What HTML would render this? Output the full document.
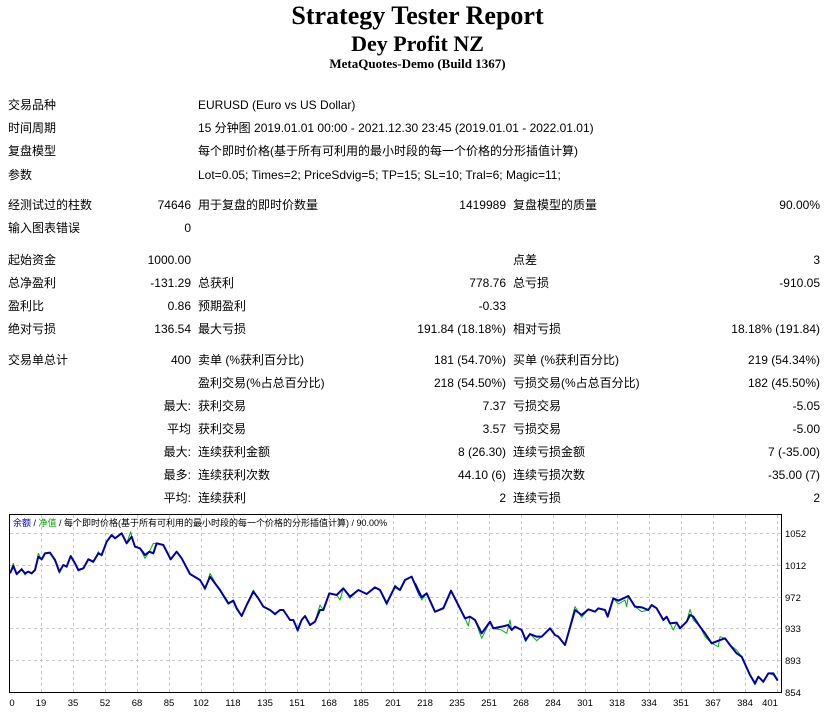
<!DOCTYPE html>
<html><head><meta charset="utf-8"><style>
body{margin:0;width:835px;height:715px;background:#fff;position:relative;overflow:hidden;font-family:"Liberation Sans","Noto Sans CJK SC",sans-serif;font-size:12px;color:#000}
.t{position:absolute;white-space:nowrap;line-height:14px}
.r{text-align:right}
.h{position:absolute;left:0;width:835px;text-align:center;font-family:"Liberation Serif",serif;font-weight:bold;white-space:nowrap}
</style></head><body>
<div class="h" style="top:1px;font-size:26px;line-height:30px">Strategy Tester Report</div>
<div class="h" style="top:31px;font-size:22px;line-height:26px">Dey Profit NZ</div>
<div class="h" style="top:56px;font-size:13px;line-height:16px">MetaQuotes-Demo (Build 1367)</div>

<div class="t" style="left:8px;top:98px">交易品种</div><div class="t" style="left:198px;top:98px">EURUSD (Euro vs US Dollar)</div>
<div class="t" style="left:8px;top:121px">时间周期</div><div class="t" style="left:198px;top:121px">15 分钟图 2019.01.01 00:00 - 2021.12.30 23:45 (2019.01.01 - 2022.01.01)</div>
<div class="t" style="left:8px;top:144px">复盘模型</div><div class="t" style="left:198px;top:144px">每个即时价格(基于所有可利用的最小时段的每一个价格的分形插值计算)</div>
<div class="t" style="left:8px;top:168px">参数</div><div class="t" style="left:198px;top:168px">Lot=0.05; Times=2; PriceSdvig=5; TP=15; SL=10; Tral=6; Magic=11;</div>

<div class="t" style="left:8px;top:198px">经测试过的柱数</div><div class="t r" style="right:644px;top:198px">74646</div><div class="t" style="left:198px;top:198px">用于复盘的即时价数量</div><div class="t r" style="right:329px;top:198px">1419989</div><div class="t" style="left:513px;top:198px">复盘模型的质量</div><div class="t r" style="right:15px;top:198px">90.00%</div>
<div class="t" style="left:8px;top:221px">输入图表错误</div><div class="t r" style="right:644px;top:221px">0</div>

<div class="t" style="left:8px;top:253px">起始资金</div><div class="t r" style="right:644px;top:253px">1000.00</div><div class="t" style="left:513px;top:253px">点差</div><div class="t r" style="right:15px;top:253px">3</div>
<div class="t" style="left:8px;top:276px">总净盈利</div><div class="t r" style="right:644px;top:276px">-131.29</div><div class="t" style="left:198px;top:276px">总获利</div><div class="t r" style="right:329px;top:276px">778.76</div><div class="t" style="left:513px;top:276px">总亏损</div><div class="t r" style="right:15px;top:276px">-910.05</div>
<div class="t" style="left:8px;top:299px">盈利比</div><div class="t r" style="right:644px;top:299px">0.86</div><div class="t" style="left:198px;top:299px">预期盈利</div><div class="t r" style="right:329px;top:299px">-0.33</div>
<div class="t" style="left:8px;top:322px">绝对亏损</div><div class="t r" style="right:644px;top:322px">136.54</div><div class="t" style="left:198px;top:322px">最大亏损</div><div class="t r" style="right:329px;top:322px">191.84 (18.18%)</div><div class="t" style="left:513px;top:322px">相对亏损</div><div class="t r" style="right:15px;top:322px">18.18% (191.84)</div>

<div class="t" style="left:8px;top:353px">交易单总计</div><div class="t r" style="right:644px;top:353px">400</div><div class="t" style="left:198px;top:353px">卖单 (%获利百分比)</div><div class="t r" style="right:329px;top:353px">181 (54.70%)</div><div class="t" style="left:513px;top:353px">买单 (%获利百分比)</div><div class="t r" style="right:15px;top:353px">219 (54.34%)</div>
<div class="t" style="left:198px;top:376px">盈利交易(%占总百分比)</div><div class="t r" style="right:329px;top:376px">218 (54.50%)</div><div class="t" style="left:513px;top:376px">亏损交易(%占总百分比)</div><div class="t r" style="right:15px;top:376px">182 (45.50%)</div>
<div class="t r" style="right:644px;top:399px">最大:</div><div class="t" style="left:198px;top:399px">获利交易</div><div class="t r" style="right:329px;top:399px">7.37</div><div class="t" style="left:513px;top:399px">亏损交易</div><div class="t r" style="right:15px;top:399px">-5.05</div>
<div class="t r" style="right:644px;top:422px">平均</div><div class="t" style="left:198px;top:422px">获利交易</div><div class="t r" style="right:329px;top:422px">3.57</div><div class="t" style="left:513px;top:422px">亏损交易</div><div class="t r" style="right:15px;top:422px">-5.00</div>
<div class="t r" style="right:644px;top:445px">最大:</div><div class="t" style="left:198px;top:445px">连续获利金额</div><div class="t r" style="right:329px;top:445px">8 (26.30)</div><div class="t" style="left:513px;top:445px">连续亏损金额</div><div class="t r" style="right:15px;top:445px">7 (-35.00)</div>
<div class="t r" style="right:644px;top:468px">最多:</div><div class="t" style="left:198px;top:468px">连续获利次数</div><div class="t r" style="right:329px;top:468px">44.10 (6)</div><div class="t" style="left:513px;top:468px">连续亏损次数</div><div class="t r" style="right:15px;top:468px">-35.00 (7)</div>
<div class="t r" style="right:644px;top:491px">平均:</div><div class="t" style="left:198px;top:491px">连续获利</div><div class="t r" style="right:329px;top:491px">2</div><div class="t" style="left:513px;top:491px">连续亏损</div><div class="t r" style="right:15px;top:491px">2</div>

<svg style="position:absolute;left:0;top:0" width="835" height="715">
<g stroke="#c8c8c8" stroke-dasharray="3,3" stroke-width="1">
<line x1="10" y1="533.5" x2="781" y2="533.5"/><line x1="10" y1="565.5" x2="781" y2="565.5"/><line x1="10" y1="597.5" x2="781" y2="597.5"/><line x1="10" y1="628.5" x2="781" y2="628.5"/><line x1="10" y1="660.5" x2="781" y2="660.5"/>
<line x1="41.5" y1="515" x2="41.5" y2="692"/><line x1="73.5" y1="515" x2="73.5" y2="692"/><line x1="105.5" y1="515" x2="105.5" y2="692"/><line x1="137.5" y1="515" x2="137.5" y2="692"/><line x1="169.5" y1="515" x2="169.5" y2="692"/><line x1="201.5" y1="515" x2="201.5" y2="692"/><line x1="233.5" y1="515" x2="233.5" y2="692"/><line x1="265.5" y1="515" x2="265.5" y2="692"/><line x1="297.5" y1="515" x2="297.5" y2="692"/><line x1="329.5" y1="515" x2="329.5" y2="692"/><line x1="361.5" y1="515" x2="361.5" y2="692"/><line x1="393.5" y1="515" x2="393.5" y2="692"/><line x1="425.5" y1="515" x2="425.5" y2="692"/><line x1="457.5" y1="515" x2="457.5" y2="692"/><line x1="489.5" y1="515" x2="489.5" y2="692"/><line x1="521.5" y1="515" x2="521.5" y2="692"/><line x1="553.5" y1="515" x2="553.5" y2="692"/><line x1="585.5" y1="515" x2="585.5" y2="692"/><line x1="617.5" y1="515" x2="617.5" y2="692"/><line x1="649.5" y1="515" x2="649.5" y2="692"/><line x1="681.5" y1="515" x2="681.5" y2="692"/><line x1="713.5" y1="515" x2="713.5" y2="692"/><line x1="745.5" y1="515" x2="745.5" y2="692"/><line x1="777.5" y1="515" x2="777.5" y2="692"/>
</g>
<rect x="9.5" y="514.5" width="772" height="178" fill="none" stroke="#000" stroke-width="1"/>
<g transform="translate(0,510) scale(0.33333)" fill="none" stroke-linejoin="round">
<polyline stroke="#00b000" stroke-width="3" points="30,190 40,160 50,195 65,175 75,195 85,185 95,192 105,180 115,130 125,150 135,130 150,128 165,150 178,190 190,165 200,172 212,138 225,160 235,183 250,175 265,148 280,158 295,125 305,138 320,95 335,75 345,85 365,70 380,100 392,65 395,80 405,110 420,115 435,145 448,125 460,100 470,100 490,105 512,148 530,125 545,145 570,192 600,210 615,240 630,190 660,243 685,283 700,272 710,298 725,318 740,285 760,240 775,265 790,290 810,300 825,315 840,300 850,300 870,330 880,330 893,366 905,330 915,318 930,345 945,335 960,285 970,300 988,250 1010,255 1020,270 1030,235 1050,265 1075,240 1100,252 1125,232 1140,240 1160,285 1185,225 1200,240 1215,210 1235,200 1260,258"/>
<polyline stroke="#0000a8" stroke-width="6" points="30,190 40,168 50,192 65,178 75,190 85,185 95,190 105,180 115,140 125,148 135,130 150,128 165,150 178,185 190,165 200,170 212,138 225,160 235,180 250,175 265,148 280,155 295,130 305,135 320,95 335,75 345,85 365,70 380,100 395,80 405,110 420,115 435,135 448,125 460,130 470,100 490,105 512,148 530,125 545,145 570,192 600,210 615,235 630,200 660,240 685,280 700,272 710,295 725,318 740,285 760,245 775,265 790,290 810,300 825,312 840,300 850,300 870,330 880,330 893,360 905,330 915,318 930,345 945,335 960,300 970,300 988,250 1010,255 1030,235 1050,260 1075,240 1100,252 1125,232 1140,240 1160,280 1185,230 1200,240 1215,210 1235,200 1260,258"/>
</g>
<g transform="translate(415,510) scale(0.33333)" fill="none" stroke-linejoin="round">
<polyline stroke="#00b000" stroke-width="3" points="0,220 20,270 35,250 60,305 85,292 108,242 150,325 160,348 165,320 180,330 200,385 225,335 235,355 260,360 275,370 285,330 290,360 300,350 320,360 332,395 345,372 365,392 380,380 395,365 405,355 420,375 430,380 450,405 480,290 500,322 520,298 540,305 550,295 570,300 578,320 595,265 610,282 630,270 635,290 640,258 660,290 680,305 700,300 710,285 725,295 745,330 755,320 775,360 785,338 795,355 815,335 825,298 835,330 855,350 870,380 890,400 910,410 915,380 930,385 945,405 965,420 980,440 1005,495 1020,525 1030,500 1045,518 1060,490 1075,495 1088,512"/>
<polyline stroke="#0000a8" stroke-width="6" points="0,220 20,262 35,250 60,305 85,295 108,242 150,325 165,320 180,330 200,370 225,335 235,355 260,350 280,345 290,360 300,350 320,360 332,390 345,372 365,380 380,380 395,365 405,355 420,375 430,380 450,405 480,300 500,315 520,298 540,305 550,295 570,300 578,320 595,265 610,272 640,258 660,290 680,292 700,300 710,285 725,295 745,330 755,320 765,340 785,338 795,355 815,335 825,315 835,320 855,350 870,370 890,400 910,392 930,385 945,405 965,430 980,440 1005,495 1020,520 1030,500 1045,515 1060,490 1075,490 1088,512"/>
</g>
<g font-family="Liberation Sans, sans-serif" font-size="9.5" fill="#000">
<text x="785" y="537">1052</text><text x="785" y="569">1012</text><text x="785" y="601">972</text><text x="785" y="632">933</text><text x="785" y="664">893</text><text x="785" y="696">854</text>
</g>
<g font-family="Liberation Sans, sans-serif" font-size="9.5" fill="#000" text-anchor="middle">
<text x="12" y="706">0</text><text x="41" y="706">19</text><text x="73" y="706">35</text><text x="105" y="706">52</text><text x="137" y="706">68</text><text x="169" y="706">85</text><text x="201" y="706">102</text><text x="233" y="706">118</text><text x="265" y="706">135</text><text x="297" y="706">151</text><text x="329" y="706">168</text><text x="361" y="706">185</text><text x="393" y="706">201</text><text x="425" y="706">218</text><text x="457" y="706">235</text><text x="489" y="706">251</text><text x="521" y="706">268</text><text x="553" y="706">284</text><text x="585" y="706">301</text><text x="617" y="706">318</text><text x="649" y="706">334</text><text x="681" y="706">351</text><text x="713" y="706">367</text><text x="745" y="706">384</text><text x="770" y="706">401</text>
</g>
<text x="13" y="526" font-family="Liberation Sans, Noto Sans CJK SC, sans-serif" font-size="9"><tspan fill="#0000a8">余额</tspan><tspan fill="#000"> / </tspan><tspan fill="#00a000">净值</tspan><tspan fill="#000"> / 每个即时价格(基于所有可利用的最小时段的每一个价格的分形插值计算) / 90.00%</tspan></text>
</svg>
</body></html>
